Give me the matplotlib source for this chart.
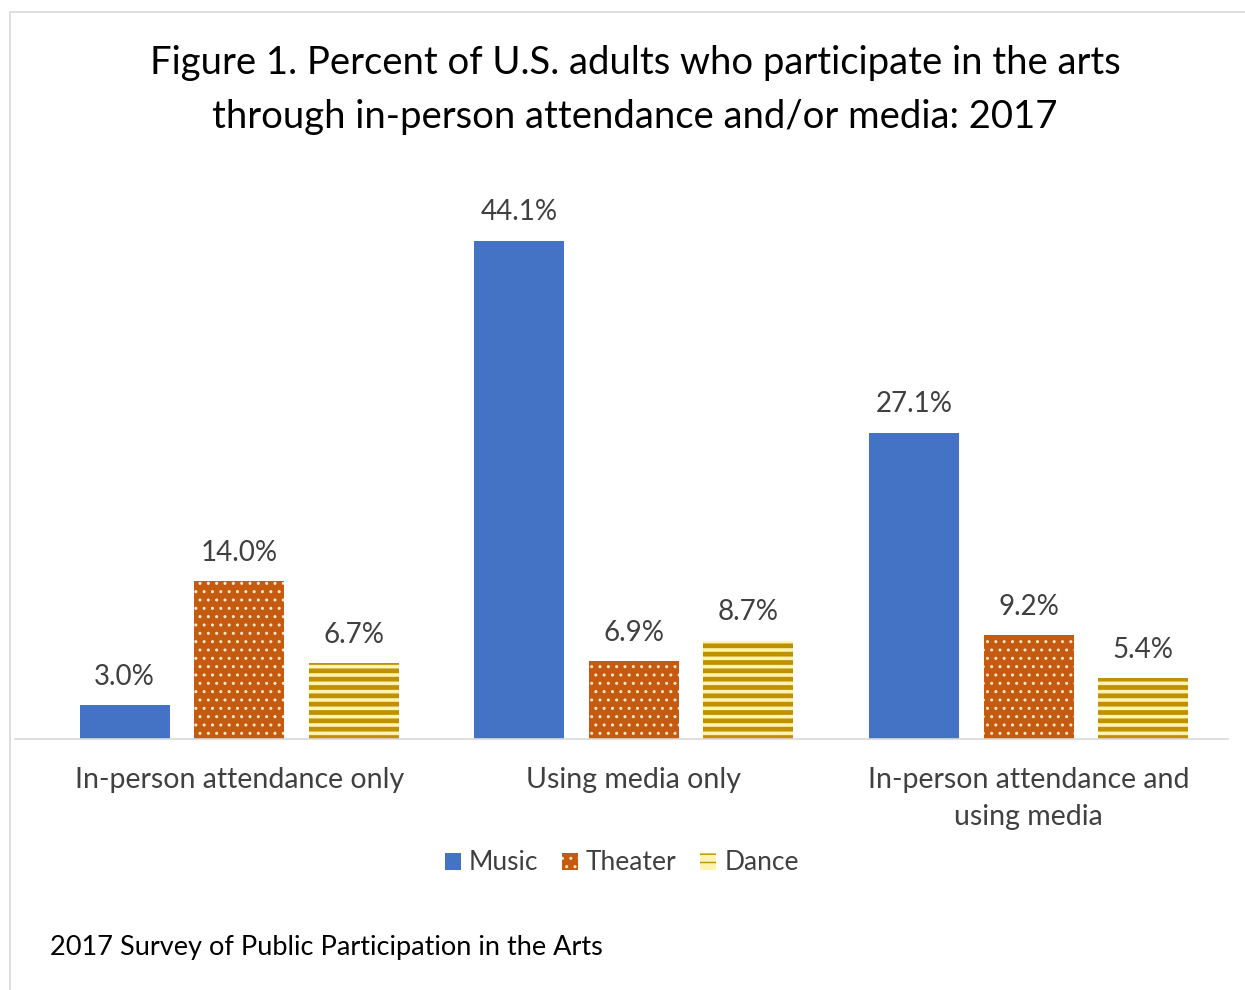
import matplotlib.pyplot as plt
from matplotlib.patches import Rectangle

# Data
categories = ["In-person attendance only", "Using media only", "In-person attendance and\nusing media"]
music = [3.0, 44.1, 27.1]
theater = [14.0, 6.9, 9.2]
dance = [6.7, 8.7, 5.4]

plt.rcParams['font.family'] = ['Lato', 'DejaVu Sans']
textColor = '#404040'

W, H = 1245, 990
fig = plt.figure(figsize=(W / 100, H / 100), dpi=100)

# outer frame of the chart area (top and left edges visible)
fig.patches.append(Rectangle((10 / W, -0.1), 1.1, 0.1 + (H - 12) / H, transform=fig.transFigure,
                             fill=False, edgecolor='#D9D9D9', linewidth=1.2))

ax = fig.add_axes([15 / W, (H - 739) / H, (1228 - 15) / W, (739 - 174) / H])

x = [0, 1, 2]
width = 0.228
off = 0.29

barsM = ax.bar([i - off for i in x], music, width, color='#4472C4', linewidth=0, label='Music')
with plt.rc_context({'hatch.linewidth': 1.0}):
    barsT = ax.bar(x, theater, width, facecolor='#C55A11', edgecolor='#FFE9C8',
                   linewidth=0, hatch='..', label='Theater')
with plt.rc_context({'hatch.linewidth': 3.4}):
    barsD = ax.bar([i + off for i in x], dance, width, facecolor='#FFF3B0', edgecolor='#BF9000',
                   linewidth=0, hatch='--', label='Dance')
for b in barsT:
    if hasattr(b, 'set_hatch_linewidth'):
        b.set_hatch_linewidth(1.0)
for b in barsD:
    if hasattr(b, 'set_hatch_linewidth'):
        b.set_hatch_linewidth(3.4)

for bars, vals in [(barsM, music), (barsT, theater), (barsD, dance)]:
    for b, v in zip(bars, vals):
        ax.annotate("{:.1f}%".format(v), (b.get_x() + b.get_width() / 2, v),
                    xytext=(0, 11), textcoords='offset points', ha='center', va='bottom',
                    fontsize=20, color=textColor)

ax.set_xlim(-0.568, 2.505)
ax.set_ylim(0, 50)
ax.set_xticks(x)
ax.set_xticklabels(categories, fontsize=20.5, color=textColor, linespacing=1.55)
ax.tick_params(axis='x', length=0, pad=20)
ax.set_yticks([])
for s in ['top', 'right', 'left']:
    ax.spines[s].set_visible(False)
ax.spines['bottom'].set_color('#D9D9D9')
ax.spines['bottom'].set_linewidth(1.2)

fig.text(635 / W, 1 - 90 / H, "Figure 1. Percent of U.S. adults who participate in the arts\n"
         "through in-person attendance and/or media: 2017",
         ha='center', va='center', fontsize=27.5, color='black', linespacing=1.6)

leg = fig.legend(handles=[barsM, barsT, barsD], loc='center', bbox_to_anchor=(622 / W, 1 - 863 / H),
                 ncol=3, frameon=False, fontsize=19, handlelength=0.6, handleheight=0.6,
                 handletextpad=0.3, columnspacing=0.9)
for t in leg.get_texts():
    t.set_color(textColor)

fig.text(50 / W, 1 - 948 / H, "2017 Survey of Public Participation in the Arts",
         ha='left', va='center', fontsize=19.5, color='black')

fig.savefig('out.png', dpi=100)
